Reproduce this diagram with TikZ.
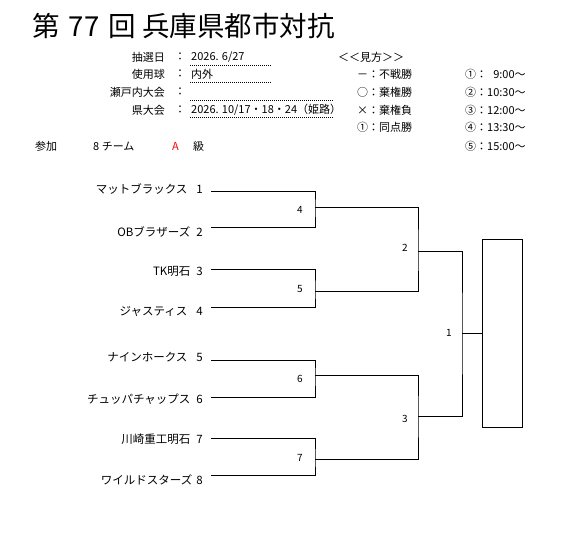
\documentclass[tikz,border=0pt]{standalone}
\usepackage{fontspec}
\setmainfont{Noto Sans CJK JP}
\usepackage{tikz}

\tikzset{
    team/.style={anchor=east, inner sep=0pt, font=\fontsize{11.5}{13}\selectfont},
    info/.style={inner sep=0pt, font=\fontsize{11}{13}\selectfont},
    game/.style={inner sep=0pt, font=\fontsize{10}{11}\selectfont},
    bracket/.style={line width=1pt},
    underline/.style={line width=0.8pt, dash pattern=on 1pt off 1pt}
}

\begin{document}
\begin{tikzpicture}[x=1pt, y=-1pt]
        \path[use as bounding box, fill=white] (0,0) rectangle (563,536);

        % the title
        \node[anchor=west, inner sep=0pt, font=\fontsize{27.5}{30}\selectfont] (title) at (32,26) {第\hspace{3pt} 77\hspace{3pt} 回 兵庫県都市対抗};

        % the header texts
        \node[info, anchor=east] (k1) at (165,57) {抽選日};
        \node[info, anchor=east] (k2) at (165,74) {使用球};
        \node[info, anchor=east] (k3) at (165,92) {瀬戸内大会};
        \node[info, anchor=east] (k4) at (165,110) {県大会};
        \node[info] (c1) at (180,57) {：};
        \node[info] (c2) at (180,74) {：};
        \node[info] (c3) at (180,92) {：};
        \node[info] (c4) at (180,110) {：};
        \node[info, anchor=west] (v1) at (191,57) {2026. 6/27};
        \node[info, anchor=west] (v2) at (191,74) {内外};
        \node[info, anchor=west] (v4) at (191,110) {2026. 10/17・18・24（姫路）};
        \draw[underline] (190,65) -- (272,65);
        \draw[underline] (190,82) -- (272,82);
        \draw[underline] (190,100) -- (333,100);
        \draw[underline] (190,117) -- (333,117);

        \node[info, anchor=west] (p1) at (35,146) {参加};
        \node[info, anchor=west] (p2) at (93,146) {8 チーム};
        \node[info, anchor=west, text=red] (p3) at (172,146) {A};
        \node[info, anchor=west] (p4) at (193,146) {級};

        % the legend
        \node[info, anchor=west] (l0) at (338,57) {＜＜見方＞＞};
        \node[info, anchor=west] (l1) at (357,74) {－：不戦勝};
        \node[info, anchor=west] (l2) at (357,92) {○：棄権勝};
        \node[info, anchor=west] (l3) at (357,110) {×：棄権負};
        \node[info, anchor=west] (l4) at (357,127) {①：同点勝};
        \node[info, anchor=west] (s1) at (465,74) {①：\hphantom{1}9:00～};
        \node[info, anchor=west] (s2) at (465,92) {②：10:30～};
        \node[info, anchor=west] (s3) at (465,110) {③：12:00～};
        \node[info, anchor=west] (s4) at (465,127) {④：13:30～};
        \node[info, anchor=west] (s5) at (465,146) {⑤：15:00～};

        % the teams
        \node[team] (t1) at (203,189) {マットブラックス\hspace{9pt}1};
        \node[team] (t2) at (203,232) {OBブラザーズ\hspace{6pt}2};
        \node[team] (t3) at (203,271) {TK明石\hspace{6pt}3};
        \node[team] (t4) at (203,311) {ジャスティス\hspace{9pt}4};
        \node[team] (t5) at (203,357) {ナインホークス\hspace{9pt}5};
        \node[team] (t6) at (203,399) {チュッパチャップス\hspace{6pt}6};
        \node[team] (t7) at (203,439) {川崎重工明石\hspace{6pt}7};
        \node[team] (t8) at (203,480) {ワイルドスターズ\hspace{4pt}8};

        \coordinate (a1) at (211,191);
        \coordinate (a2) at (211,227);
        \coordinate (a3) at (211,269);
        \coordinate (a4) at (211,307);
        \coordinate (a5) at (211,360);
        \coordinate (a6) at (211,397);
        \coordinate (a7) at (211,438);
        \coordinate (a8) at (211,475);

        % the games
        \coordinate (m4) at (315,207);
        \coordinate (m5) at (315,291);
        \coordinate (m6) at (315,375);
        \coordinate (m7) at (315,459);
        \coordinate (m2) at (418,251);
        \coordinate (m3) at (418,416);
        \coordinate (m1) at (462,333);

        \node[game] (g4) at (300,210) {4};
        \node[game] (g5) at (300,289) {5};
        \node[game] (g6) at (300,379) {6};
        \node[game] (g7) at (300,458) {7};
        \node[game] (g2) at (405,248) {2};
        \node[game] (g3) at (405,419) {3};
        \node[game] (g1) at (449,333) {1};

        \node[draw, line width=1pt, inner sep=0pt, minimum width=40pt, minimum height=188pt] (champ) at (502,333) {};

        % draw the brackets
        \draw[bracket] (a1) -| (m4) |- (a2);
        \draw[bracket] (a3) -| (m5) |- (a4);
        \draw[bracket] (a5) -| (m6) |- (a6);
        \draw[bracket] (a7) -| (m7) |- (a8);
        \draw[bracket] (m4) -| (m2) |- (m5);
        \draw[bracket] (m6) -| (m3) |- (m7);
        \draw[bracket] (m2) -| (m1) |- (m3);
        \draw[bracket] (m1) -- (champ.west);

\end{tikzpicture}
\end{document}
